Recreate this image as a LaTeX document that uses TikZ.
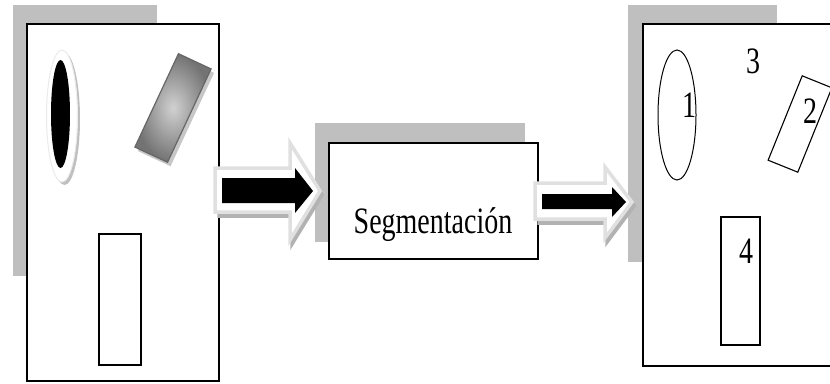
\documentclass[tikz,border=0pt]{standalone}
\usepackage{fontspec}
\setmainfont{Liberation Serif}
\usetikzlibrary{shadings}
\tikzset{
  shadowbox/.style={fill=black!25, draw=none},
  frame/.style={draw=black, line width=1.6pt, fill=white},
  outline/.style={draw=black, line width=1.5pt},
  thinline/.style={draw=black, line width=1pt},
  lbl/.style={inner sep=0pt, anchor=base, font=\fontsize{28}{30}\selectfont},
  bigarrow/.style={fill=white, draw=black!12, line width=3.5pt, line join=miter},
  arrowshadow/.style={fill=black!30, draw=black!30, line width=3.5pt, line join=miter},
  blackarrow/.style={fill=black, draw=none},
}
\newcommand{\tall}[1]{\scalebox{1}[1.33]{#1}}
\begin{document}
\begin{tikzpicture}[x=1pt,y=-1pt]
\useasboundingbox (0,0) rectangle (830,383);
\clip (0,0) rectangle (830,383);
% shadows of panels
\fill[shadowbox] (13,5) rectangle (157,276);
\fill[shadowbox] (315,123) rectangle (525,242);
\fill[shadowbox] (628,5) rectangle (777,262);
% panels
\node[frame, minimum width=192pt, minimum height=357pt, inner sep=0pt] (left) at (123,202.5) {};
\node[frame, minimum width=209pt, minimum height=116pt, inner sep=0pt] (mid) at (433.5,201) {};
\node[frame, minimum width=192pt, minimum height=342pt, inner sep=0pt] (right) at (739,195) {};
% segmentation label
\node[lbl] (seg) at (433,233) {\tall{Segmentación}};
% arrow 1
\begin{scope}[shift={(2,4)}]
\filldraw[arrowshadow] (217,168) -- (290,168) -- (290,143) -- (320,191) -- (290,240) -- (290,212) -- (217,212) -- cycle;
\end{scope}
\filldraw[bigarrow] (215,168) -- (290,168) -- (290,143) -- (320,191) -- (290,240) -- (290,212) -- (215,212) -- cycle;
\fill[blackarrow] (222,178) -- (295,178) -- (295,168) -- (313,191) -- (295,213) -- (295,203) -- (222,203) -- cycle;
% arrow 2
\begin{scope}[shift={(2,4)}]
\filldraw[arrowshadow] (537,183) -- (605,183) -- (605,167) -- (632,202) -- (605,238) -- (605,219) -- (537,219) -- cycle;
\end{scope}
\filldraw[bigarrow] (535,183) -- (605,183) -- (605,167) -- (632,202) -- (605,238) -- (605,219) -- (535,219) -- cycle;
\fill[blackarrow] (542,194) -- (612,194) -- (612,187) -- (626,202) -- (612,217) -- (612,209) -- (542,209) -- cycle;
% left panel contents
\fill[black!25] (64.5,119) ellipse [x radius=15.5, y radius=66];
\filldraw[fill=white, draw=black!8, line width=1pt] (62,116) ellipse [x radius=15.5, y radius=66];
\fill[black] (60.5,114) ellipse [x radius=9.5, y radius=54];
\node[rectangle, minimum width=36pt, minimum height=103pt, rotate=-25, fill=black!22, inner sep=0pt] (gshadow) at (176,112) {};
\node[rectangle, minimum width=36pt, minimum height=103pt, rotate=-25, inner sep=0pt, draw=black!60, line width=1.2pt, inner color=black!18, outer color=black!55] (grect) at (173,108) {};
\draw[outline] (99,234) rectangle (141,365);
% right panel contents
\draw[thinline] (677,115) ellipse [x radius=19, y radius=65];
\node[rectangle, minimum width=32pt, minimum height=91pt, rotate=-22, thinline, line width=1.1pt, inner sep=0pt] (r2) at (800,124) {};
\draw[outline] (721,217) rectangle (760,345);
\node[lbl] (l1) at (689,117) {\tall{1}};
\node[lbl] (l3) at (753,73) {\tall{3}};
\node[lbl] (l2) at (810,123) {\tall{2}};
\node[lbl] (l4) at (746,263) {\tall{4}};
\end{tikzpicture}
\end{document}
